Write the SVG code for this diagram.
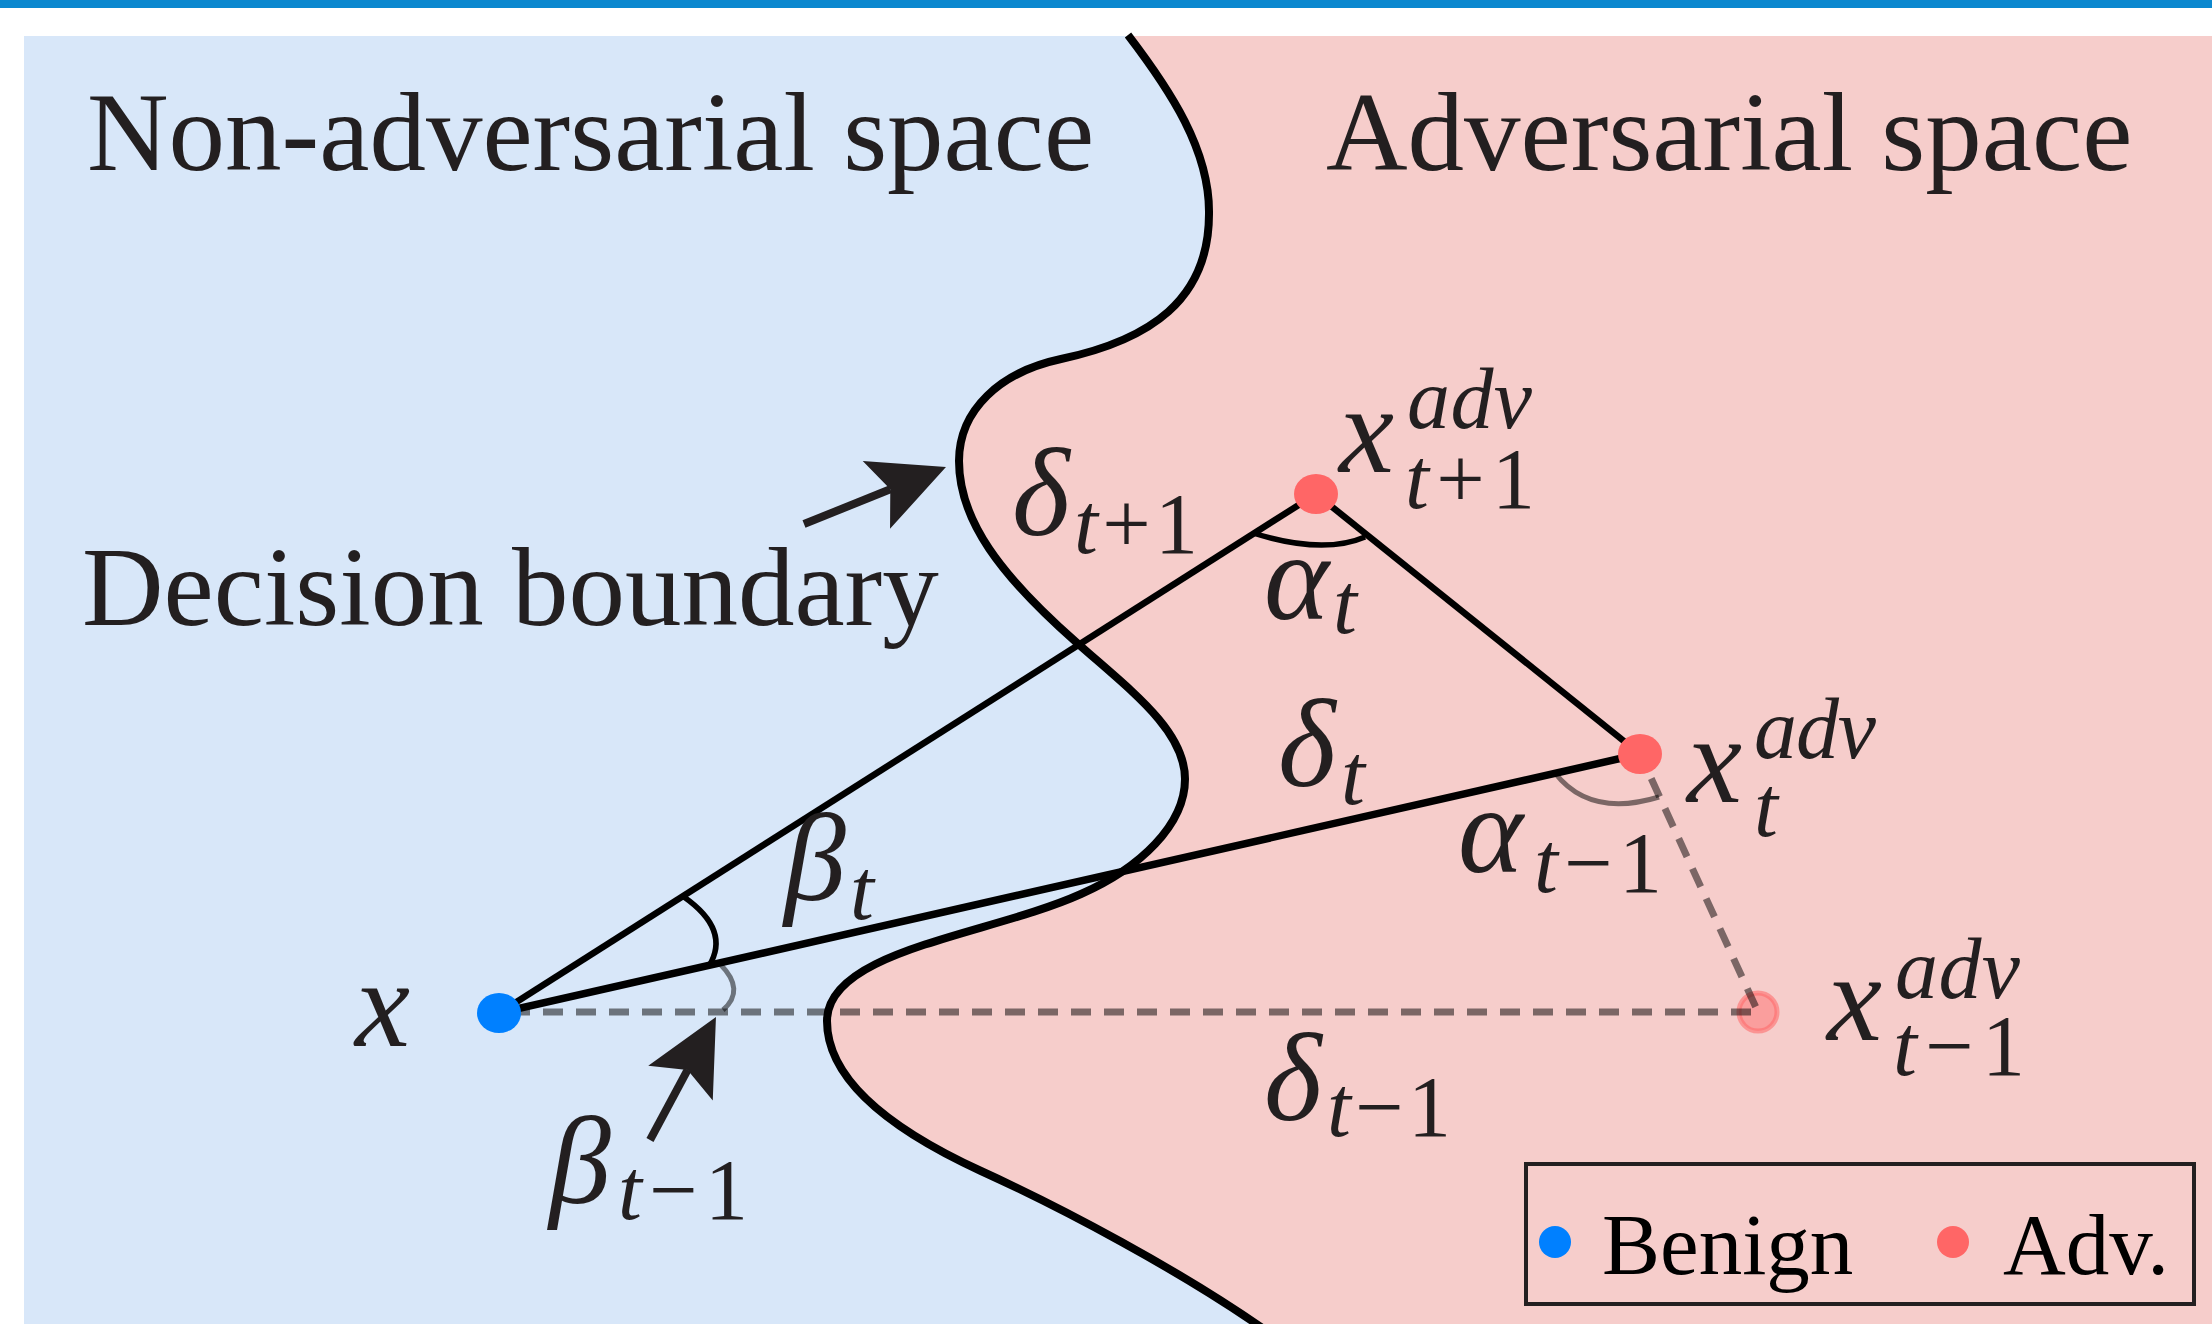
<svg xmlns="http://www.w3.org/2000/svg" width="2212" height="1324" viewBox="0 0 2212 1324">
<style>
text{font-family:'Liberation Serif','DejaVu Serif',serif}
.title{font-size:113px;fill:#231F20}
.leg{font-size:87px;fill:#000}
.m{font-style:italic;font-size:124px;fill:#231F20}
.s{font-style:italic;font-size:86px;fill:#231F20}
.up{font-style:normal}
.bd{fill:none;stroke:#000;stroke-width:8;stroke-linejoin:round}
.ln{fill:none;stroke:#000;stroke-linecap:butt}
.dash{fill:none;stroke:#000;stroke-opacity:0.5;stroke-width:7;stroke-dasharray:20 13}
.garc{fill:none;stroke:#000;stroke-opacity:0.5;stroke-width:5}
.arc{fill:none;stroke:#000;stroke-width:5.5}
.adv{fill:#FF6666}
.ben{fill:#0080FF}
</style>
<defs>
<marker id="ah" markerUnits="userSpaceOnUse" viewBox="-80 -40 85 80" markerWidth="85" markerHeight="80" refX="-60" refY="0" orient="auto">
<path d="M0,0 L-75,-36.6 L-60,0 L-75,36.6 Z" fill="#231F20"/>
</marker>
</defs>
<rect x="0" y="0" width="2212" height="1324" fill="#fff"/>
<rect x="0" y="0" width="2212" height="8" fill="#0B88CF"/>
<rect x="24" y="36" width="2188" height="1288" fill="#D8E7F9"/>
<path id="adv-region" d="M1129,36 C1170,90 1210,150 1209,214 C1209,300 1150,340 1061,359 C1000,372 959,410 959,461 C959,520 1000,575 1076,642 C1130,690 1185,730 1185,779 C1185,825 1140,868 1081,894 C990,935 827,950 827,1021 C827,1070 870,1120 981,1171 C1060,1207 1180,1270 1268,1332 L2212,1332 L2212,36 Z" fill="#F6CDCB"/>
<path id="boundary" class="bd" d="M1128,35 C1170,90 1210,150 1209,214 C1209,300 1150,340 1061,359 C1000,372 959,410 959,461 C959,520 1000,575 1076,642 C1130,690 1185,730 1185,779 C1185,825 1140,868 1081,894 C990,935 827,950 827,1021 C827,1070 870,1120 981,1171 C1060,1207 1180,1270 1268,1332"/>

<g id="titles">
<text class="title" x="87" y="170">Non-adversarial space</text>
<text class="title" x="1326" y="170">Adversarial space</text>
<text class="title" x="82" y="625">Decision boundary</text>
</g>

<g id="node-xtm1">
<circle cx="1758" cy="1012" r="19" fill="#FF6666" fill-opacity="0.45" stroke="#FF6666" stroke-opacity="0.55" stroke-width="5"/>
</g>

<g id="connectors">
<line class="dash" x1="499" y1="1012" x2="1758" y2="1012" stroke-dashoffset="22"/>
<line class="dash" x1="1640" y1="754" x2="1758" y2="1012" stroke-dashoffset="6"/>
<line class="ln" x1="499" y1="1013" x2="1316" y2="494" stroke-width="6.5"/>
<line class="ln" x1="499" y1="1013" x2="1640" y2="754" stroke-width="7.5"/>
<line class="ln" x1="1316" y1="494" x2="1640" y2="754" stroke-width="6.5"/>
<path class="arc" d="M684,897 Q731,930 709,966"/>
<path class="garc" d="M720,964 Q746,990 723,1010"/>
<path class="arc" d="M1253,533 Q1323,555 1365,537"/>
<path class="garc" d="M1555,773 Q1590,818 1659,797"/>
<line x1="804" y1="524" x2="890.3" y2="489.3" stroke="#231F20" stroke-width="8" marker-end="url(#ah)"/>
<line x1="650" y1="1140" x2="687.6" y2="1069.9" stroke="#231F20" stroke-width="8" marker-end="url(#ah)"/>
</g>

<g id="node-x">
<ellipse class="ben" cx="499" cy="1013" rx="22" ry="20"/>
<text class="m" x="355" y="1046">x</text>
</g>
<g id="node-xt1">
<ellipse class="adv" cx="1316" cy="494" rx="22" ry="20"/>
<text class="m" x="1339" y="472">x</text>
<text class="s" x="1407" y="428" textLength="125">adv</text>
<text class="s" x="1405" y="508" textLength="130">t<tspan class="up">+1</tspan></text>
</g>
<g id="node-xt">
<ellipse class="adv" cx="1640" cy="754" rx="22" ry="20"/>
<text class="m" x="1687" y="802">x</text>
<text class="s" x="1754" y="758" textLength="122">adv</text>
<text class="s" x="1754" y="836">t</text>
</g>
<g id="label-xtm1">
<text class="m" x="1827" y="1040">x</text>
<text class="s" x="1895" y="998" textLength="125">adv</text>
<text class="s" x="1893" y="1075" textLength="132">t<tspan class="up">−1</tspan></text>
</g>

<g id="labels">
<text class="m" x="1012" y="535">δ</text>
<text class="s" x="1074" y="553" textLength="124">t<tspan class="up">+1</tspan></text>
<text class="m" x="1264" y="619">α</text>
<text class="s" x="1333" y="633">t</text>
<text class="m" x="1278" y="786">δ</text>
<text class="s" x="1341" y="804">t</text>
<text class="m" x="1458" y="872">α</text>
<text class="s" x="1534" y="892" textLength="128">t<tspan class="up">−1</tspan></text>
<text class="m" x="784" y="900">β</text>
<text class="s" x="850" y="919">t</text>
<text class="m" x="1264" y="1120">δ</text>
<text class="s" x="1327" y="1136" textLength="124">t<tspan class="up">−1</tspan></text>
<text class="m" x="549" y="1203">β</text>
<text class="s" x="618" y="1219" textLength="130">t<tspan class="up">−1</tspan></text>
</g>

<g id="legend">
<rect x="1526" y="1164" width="668" height="140" fill="none" stroke="#231F20" stroke-width="4"/>
<circle class="ben" cx="1555" cy="1242" r="16"/>
<text class="leg" x="1602" y="1274">Benign</text>
<circle class="adv" cx="1953" cy="1242" r="16"/>
<text class="leg" x="2003" y="1274">Adv.</text>
</g>
</svg>
